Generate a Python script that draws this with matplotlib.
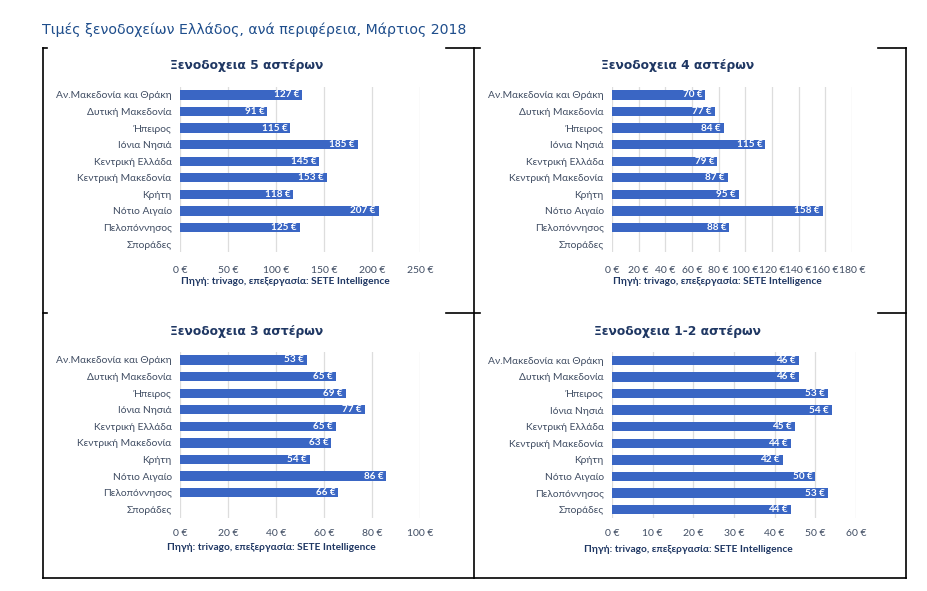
import matplotlib.pyplot as plt
import numpy as np

# Regions (same order in every panel)
regions = [
    'Αν.Μακεδονία και Θράκη', 'Δυτική Μακεδονία', 'Ήπειρος', 'Ιόνια Νησιά',
    'Κεντρική Ελλάδα', 'Κεντρική Μακεδονία', 'Κρήτη', 'Νότιο Αιγαίο',
    'Πελοπόννησος', 'Σποράδες'
]

# Average prices in euro (nan = no data)
stars_5 = [127, 91, 115, 185, 145, 153, 118, 207, 125, np.nan]
stars_4 = [70, 77, 84, 115, 79, 87, 95, 158, 88, np.nan]
stars_3 = [53, 65, 69, 77, 65, 63, 54, 86, 66, np.nan]
stars_12 = [46, 46, 53, 54, 45, 44, 42, 50, 53, 44]

titles = ['Ξενοδοχεια 5 αστέρων', 'Ξενοδοχεια 4 αστέρων',
          'Ξενοδοχεια 3 αστέρων', 'Ξενοδοχεια 1-2 αστέρων']
x_ticks = [np.arange(0, 251, 50), np.arange(0, 181, 20),
           np.arange(0, 101, 20), np.arange(0, 61, 10)]

main_title = 'Τιμές ξενοδοχείων Ελλάδος, ανά περιφέρεια, Μάρτιος 2018'
source = 'Πηγή: trivago, επεξεργασία: SETE Intelligence'

W, H = 927, 591
fig = plt.figure(figsize=(W / 100, H / 100), dpi=100)
fig.patch.set_facecolor('white')

FONT = ['Lato', 'Open Sans', 'DejaVu Sans']
BAR = '#3A66C4'
LABEL = '#404D63'
NAVY = '#1F3763'

# background layer in pixel coordinates for the frame lines
bg = fig.add_axes([0, 0, 1, 1], zorder=0)
bg.set_xlim(0, W)
bg.set_ylim(H, 0)
bg.axis('off')
lw = 1.2
for x in [43, 474, 906]:
    bg.plot([x, x], [48, 578], color='black', lw=lw)
bg.plot([43, 906], [578, 578], color='black', lw=lw)
for y in [48, 313]:
    bg.plot([43, 47], [y, y], color='black', lw=lw)
    bg.plot([446, 480], [y, y], color='black', lw=lw)
    bg.plot([878, 906], [y, y], color='black', lw=lw)

bg.text(42, 30, main_title, fontsize=10.2, color='#1F4E8C',
        family='DejaVu Sans', va='center', ha='left')

# panel boxes: x of zero, x of max, top, bottom (pixels), plus title / source spots
panels = [
    (stars_5, 180, 420, 86.7, 252.3, 250, 247, 65, 285, 282),
    (stars_4, 612, 852, 86.7, 252.3, 180, 678, 65, 717, 282),
    (stars_3, 180, 420, 351.7, 517.6, 100, 247, 332, 271, 548),
    (stars_12, 612, 856, 352.0, 518.0, 60, 678, 331, 688, 550),
]

for i, (vals, x0, x1, yt, yb, xmax, tx, ty, sx, sy) in enumerate(panels):
    ax = fig.add_axes([x0 / W, 1 - yb / H, (x1 - x0) / W, (yb - yt) / H], zorder=1)
    ax.set_facecolor('none')
    y = np.arange(len(regions))
    v = np.nan_to_num(np.array(vals, dtype=float))
    ax.barh(y, v, height=0.56, color=BAR, zorder=2)
    for yi, val in zip(y, vals):
        if not np.isnan(val):
            ax.text(val - xmax * 0.012, yi, f'{int(val)} €', ha='right', va='center',
                    color='white', fontsize=7.2, fontweight='bold', family=FONT, zorder=3)
    ax.set_xlim(0, xmax)
    ax.set_ylim(len(regions) - 0.5, -0.5)
    ax.set_yticks(y)
    ax.set_yticklabels(regions, family=FONT, fontsize=7.4, color=LABEL)
    ax.set_xticks(x_ticks[i])
    ax.set_xticklabels([f'{t} €' for t in x_ticks[i]], family=FONT, fontsize=7.5, color=LABEL)
    ax.tick_params(length=0)
    ax.tick_params(axis='y', pad=6)
    ax.tick_params(axis='x', pad=10 if i < 2 else 8)
    ax.grid(axis='x', color='#DDDDDD', lw=0.9, zorder=0)
    ax.set_axisbelow(True)
    for s in ax.spines.values():
        s.set_visible(False)

    bg.text(tx, ty, titles[i], fontsize=8.8, fontweight='bold', color=NAVY,
            family='DejaVu Sans', ha='center', va='center')
    bg.text(sx, sy, source, fontsize=7.3, fontweight='bold', color=NAVY,
            family=FONT, ha='center', va='center')

fig.savefig('out.png', dpi=100, facecolor='white')
